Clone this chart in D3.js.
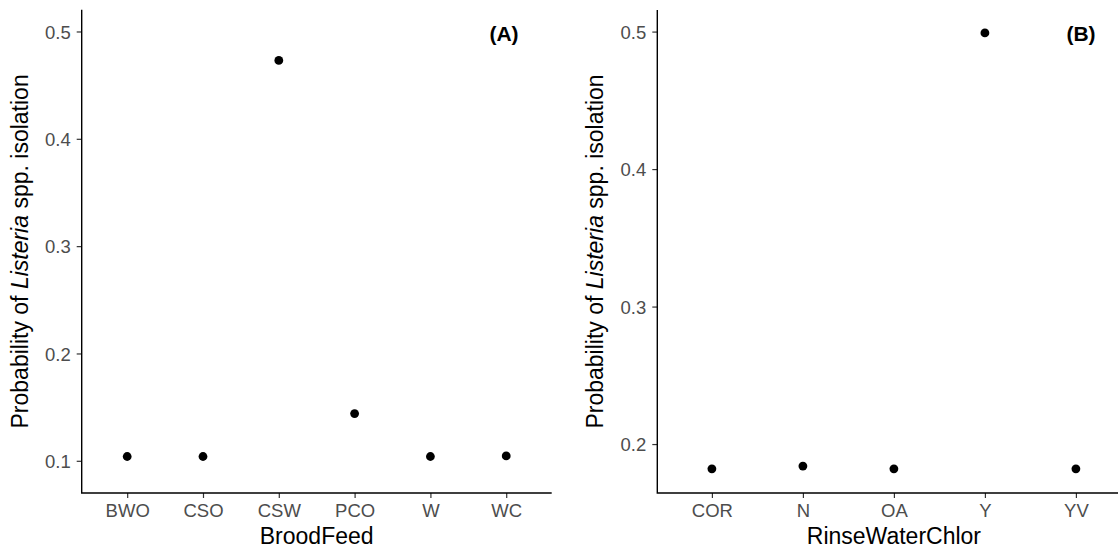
<!DOCTYPE html>
<html>
  <head>
    <title>Listeria probability</title>
    <script src="https://cdn.jsdelivr.net/npm/d3@7"></script>
    <style>
      body { margin: 0; background: #fff; }
      text { font-family: "Liberation Sans", Arial, Helvetica, sans-serif; }
    </style>
  </head>
  <body>
    <svg width="1118" height="550" id="mainsvg"></svg>
    <script>
      // panel A data
      const broodFeed = ['BWO', 'CSO', 'CSW', 'PCO', 'W', 'WC'];
      const broodProb = [0.104, 0.104, 0.473, 0.144, 0.104, 0.1045];
      const broodTicks = [0.1, 0.2, 0.3, 0.4, 0.5];

      // panel B data
      const rinseChlor = ['COR', 'N', 'OA', 'Y', 'YV'];
      const rinseProb = [0.182, 0.184, 0.182, 0.499, 0.182];
      const rinseTicks = [0.2, 0.3, 0.4, 0.5];

      const svg = d3.select('#mainsvg');

      const drawPanel = function(opt){
          const xScale = d3.scalePoint()
            .domain(opt.cats)
            .range([opt.left, opt.right])
            .padding(0.6);
          const yScale = d3.scaleLinear()
            .domain(opt.yDomain)
            .range([opt.bottom, opt.top]);

          const g = svg.append('g');

          const yAxis = g.append('g')
            .attr('transform', `translate(${opt.left}, 0)`)
            .call(d3.axisLeft(yScale).tickValues(opt.ticks).tickFormat(d3.format('.1f'))
              .tickSize(5).tickPadding(6));
          const xAxis = g.append('g')
            .attr('transform', `translate(0, ${opt.bottom})`)
            .call(d3.axisBottom(xScale).tickSize(5).tickPadding(6));

          [xAxis, yAxis].forEach(ax => {
              ax.select('.domain').remove();
              ax.selectAll('.tick line').attr('stroke', '#333').attr('stroke-width', 1.2);
              ax.selectAll('.tick text').attr('fill', '#4d4d4d')
                .style('font-size', '18.5px');
          });
          xAxis.selectAll('.tick text').attr('dy', null).attr('y', 24);
          yAxis.selectAll('.tick text').attr('dy', '0.36em');

          // axis lines (classic theme)
          g.append('path')
            .attr('d', `M${opt.left},${yScale.range()[1]}V${opt.bottom}H${xScale.range()[1]}`)
            .attr('fill', 'none')
            .attr('stroke', '#000')
            .attr('stroke-width', 1.4);

          g.selectAll('circle').data(opt.vals).join('circle')
            .attr('cx', (d, i) => xScale(opt.cats[i]))
            .attr('cy', d => yScale(d))
            .attr('r', 4.4)
            .attr('fill', '#000');

          // axis titles
          g.append('text')
            .attr('x', (opt.left + opt.right) / 2)
            .attr('y', 543.5)
            .attr('text-anchor', 'middle')
            .style('font-size', '23px')
            .attr('fill', '#000')
            .text(opt.xTitle);

          const yt = g.append('text')
            .attr('transform', `translate(${opt.left - 54}, ${(opt.top + opt.bottom) / 2}) rotate(-90)`)
            .attr('text-anchor', 'middle')
            .style('font-size', '23px')
            .attr('fill', '#000');
          yt.append('tspan').text('Probability of ');
          yt.append('tspan').style('font-style', 'italic').text('Listeria');
          yt.append('tspan').text(' spp. isolation');

          // panel tag
          g.append('text')
            .attr('x', opt.tagX)
            .attr('y', 40.5)
            .attr('text-anchor', 'middle')
            .style('font-size', '21px')
            .style('font-weight', 'bold')
            .text(opt.tag);
      };

      drawPanel({
          cats: broodFeed, vals: broodProb, ticks: broodTicks,
          yDomain: [0.07, 0.5202],
          left: 81.7, right: 551.7, top: 9.8, bottom: 493,
          xTitle: 'BroodFeed', tag: '(A)', tagX: 504
      });

      drawPanel({
          cats: rinseChlor, vals: rinseProb, ticks: rinseTicks,
          yDomain: [0.1644, 0.5157],
          left: 657.3, right: 1130.5, top: 10, bottom: 493,
          xTitle: 'RinseWaterChlor', tag: '(B)', tagX: 1081
      });
    </script>
  </body>
</html>
